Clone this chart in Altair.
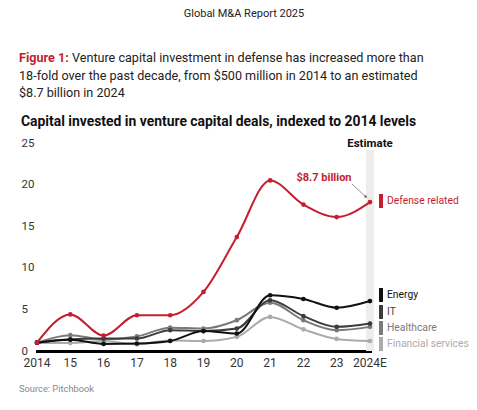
import altair as alt
import pandas as pd

years = [2014, 2015, 2016, 2017, 2018, 2019, 2020, 2021, 2022, 2023, 2024]
tick_labels = ["2014", "15", "16", "17", "18", "19", "20", "21", "22", "23", "2024E"]

defense = [1.0, 4.4, 1.85, 4.3, 4.3, 7.1, 13.7, 20.5, 17.6, 16.1, 17.9]
energy = [1.0, 1.35, 0.85, 0.9, 1.2, 2.4, 2.1, 6.7, 6.25, 5.2, 6.0]
it = [1.0, 1.4, 1.5, 1.5, 2.5, 2.4, 2.7, 6.1, 4.2, 2.9, 3.3]
healthcare = [1.0, 1.9, 1.4, 1.75, 2.8, 2.7, 3.7, 5.8, 3.7, 2.5, 2.9]
financial = [1.0, 0.95, 1.2, 0.8, 1.25, 1.2, 1.7, 4.1, 2.6, 1.45, 1.2]

series_names = ["Financial services", "Healthcare", "IT", "Energy", "Defense related"]
series_values = [financial, healthcare, it, energy, defense]
series_colors = ["#ababab", "#7a7a7a", "#3c3c3c", "#111111", "#c41e30"]

FONT = "Roboto"
W, H = 333, 208

rows = []
for name, vals in zip(series_names, series_values):
    for y, v in zip(years, vals):
        rows.append({"year": y, "value": v, "series": name})
df = pd.DataFrame(rows)
ticks_df = pd.DataFrame({"year": years, "label": tick_labels})

xscale = alt.Scale(domain=[2014, 2024], nice=False, zero=False)
x_enc = alt.X("year:Q", scale=xscale,
              axis=alt.Axis(values=years, labels=False, title=None, grid=False,
                            ticks=False, tickSize=0, domainColor="#000000", domainWidth=3,
                            domainCap="square"))
y_enc = alt.Y("value:Q", scale=alt.Scale(domain=[0, 25], nice=False),
              axis=alt.Axis(values=[0, 5, 10, 15, 20, 25], title=None, grid=False, domain=False,
                            ticks=False, tickSize=0, labelAlign="left", labelPadding=16,
                            labelBaseline="middle", labelFontSize=11.5, labelColor="#333333",
                            labelFont=FONT, labelOverlap=False))

empty = alt.Data(values=[{}])

band = alt.Chart(empty).mark_rule(color="#efedea", strokeWidth=8).encode(
    x=alt.datum(2024, scale=xscale), y=alt.value(7), y2=alt.value(H))

layers = [band]
for name, color in zip(series_names, series_colors):
    base = alt.Chart(df).transform_filter(alt.datum.series == name)
    layers.append(base.mark_line(interpolate="monotone", strokeWidth=2, color=color).encode(x=x_enc, y=y_enc))
    layers.append(base.mark_point(filled=True, size=22, opacity=1, color=color).encode(x=x_enc, y=y_enc))

# x tick labels drawn through the x scale
layers.append(alt.Chart(ticks_df).mark_text(baseline="middle", align="center", fontSize=12,
                                            color="#333333", font=FONT).encode(
    x=alt.X("year:Q", scale=xscale), y=alt.value(H + 12), text="label:N"))


def txt(text, x, y, size=12, color="#222222", weight="normal", align="left", font=FONT):
    return alt.Chart(empty).mark_text(align=align, baseline="middle", fontSize=size, color=color,
                                      fontWeight=weight, font=font).encode(
        x=alt.value(x), y=alt.value(y), text=alt.value(text))


def box(x, y1, y2, color):
    return alt.Chart(empty).mark_rect(color=color).encode(
        x=alt.value(x), x2=alt.value(x + 4), y=alt.value(y1), y2=alt.value(y2))


# right-hand labels
lab_y = [201 - 143, 295 - 143, 312 - 143, 328 - 143, 344 - 143]
lab_names = ["Defense related", "Energy", "IT", "Healthcare", "Financial services"]
lab_colors = ["#c41e30", "#111111", "#3c3c3c", "#7a7a7a", "#ababab"]
for n, c, yy in zip(lab_names, lab_colors, lab_y):
    layers.append(box(342, yy - 7, yy + 7, c))
    layers.append(txt(n, 350, yy, size=10.3, color=c))

# annotation
layers.append(txt("$8.7 billion", 287, 178 - 143, size=11, color="#c41e30", weight="bold", align="center"))
layers.append(alt.Chart(empty).mark_rule(color="#777777", strokeWidth=0.8).encode(
    x=alt.value(315), y=alt.value(184 - 143), x2=alt.value(329), y2=alt.value(197 - 143)))
layers.append(alt.Chart(empty).mark_point(shape="triangle-right", filled=True, size=14, angle=42,
                                          color="#777777", opacity=1).encode(
    x=alt.value(329), y=alt.value(197 - 143)))

layers.append(txt("Estimate", 333, 144 - 143, size=11.5, color="#111111", weight="bold", align="center"))

# titles
layers.append(txt("Global M&A Report 2025", 244 - 37, 14 - 143, size=11, color="#222222", align="center"))
layers.append(txt("Figure 1:", 19 - 37, 58 - 143, size=12.6, color="#c41e30", weight="bold"))
layers.append(txt("Venture capital investment in defense has increased more than", 72 - 37, 58 - 143, size=12.6, color="#222222"))
layers.append(txt("18-fold over the past decade, from $500 million in 2014 to an estimated", 19 - 37, 76 - 143, size=12.6, color="#222222"))
layers.append(txt("$8.7 billion in 2024", 19 - 37, 93 - 143, size=12.6, color="#222222"))
layers.append(txt("Capital invested in venture capital deals, indexed to 2014 levels", 21 - 37, 122 - 143, size=13.9, color="#111111", weight="bold"))
layers.append(txt("Source: Pitchbook", 19 - 37, 389 - 143, size=9.3, color="#888888"))

chart = alt.layer(*layers).properties(
    width=W, height=H,
    autosize=alt.AutoSizeParams(type="none"),
    padding={"left": 29, "top": 135, "right": 99, "bottom": 51},
    background="#ffffff",
).configure_view(stroke=None)

chart.save("out.html", embed_options={"renderer": "svg", "actions": False})
